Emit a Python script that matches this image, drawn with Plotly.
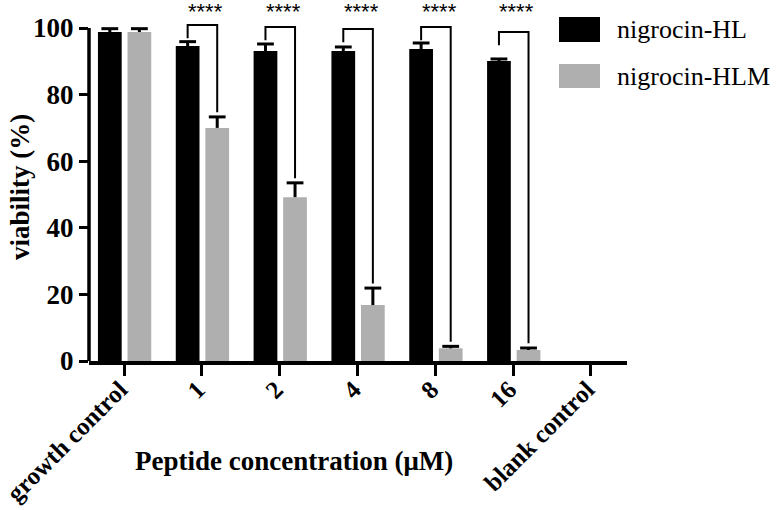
import plotly.graph_objects as go

# ---- data ----
categories = ["growth control", "1", "2", "4", "8", "16", "blank control"]
hl_values = [98.8, 94.6, 93.1, 93.1, 93.7, 90.1, None]
hl_errors = [1.0, 1.3, 2.1, 1.2, 1.8, 0.6, None]
hlm_values = [98.8, 70.0, 49.2, 16.8, 3.8, 3.3, None]
hlm_errors = [1.0, 3.3, 4.3, 5.1, 0.6, 0.6, None]
sig_index = [1, 2, 3, 4, 5]
sig_labels = ["****", "****", "****", "****", "****"]
sig_heights = [100.9, 100.3, 99.7, 100.3, 98.8]

W, H = 778, 510
ML, MR, MT, MB = 89, 151, 0, 149
PW, PH = W - ML - MR, H - MT - MB

def px_x(p):
    return (p - ML) / PW

def px_y(p):
    return (H - MB - p) / PH

x = list(range(len(categories)))
BW = 0.305
OFF_HL, OFF_HLM = -0.335, 0.045
GRAY = "#AFAFAF"
SERIF = "Liberation Serif, Times New Roman, serif"

fig = go.Figure()
fig.add_trace(go.Bar(
    x=x, y=hl_values, name="nigrocin-HL", width=BW, offset=OFF_HL,
    marker=dict(color="black", line=dict(width=0)), showlegend=False))
fig.add_trace(go.Bar(
    x=x, y=hlm_values, name="nigrocin-HLM", width=BW, offset=OFF_HLM,
    marker=dict(color=GRAY, line=dict(width=0)), showlegend=False))

# one-sided (upward) error bars
for vals, errs, off in [(hl_values, hl_errors, OFF_HL), (hlm_values, hlm_errors, OFF_HLM)]:
    lx, ly, cx, cy = [], [], [], []
    for i, (v, e) in enumerate(zip(vals, errs)):
        if v is None or e is None:
            continue
        xc = i + off + BW / 2
        lx += [xc, xc, None]
        ly += [v, v + e, None]
        cx.append(xc)
        cy.append(v + e)
    fig.add_trace(go.Scatter(x=lx, y=ly, mode="lines", line=dict(color="black", width=3),
                             showlegend=False, hoverinfo="skip"))
    fig.add_trace(go.Scatter(x=cx, y=cy, mode="markers",
                             marker=dict(symbol="line-ew", size=12, line=dict(color="black", width=3)),
                             showlegend=False, hoverinfo="skip"))

shapes = []
annotations = []
for i, lab, h in zip(sig_index, sig_labels, sig_heights):
    xl = i + OFF_HL + BW / 2
    xr = i + OFF_HLM + BW / 2
    yl = h - 4.0
    yr = hlm_values[i] + hlm_errors[i] + 1.4
    shapes.append(dict(type="path", xref="x", yref="y",
                       path=f"M {xl},{yl} L {xl},{h} L {xr},{h} L {xr},{yr}",
                       line=dict(color="black", width=2)))
    annotations.append(dict(x=(xl + xr) / 2 + 0.04, y=1, xref="x", yref="paper", text=lab,
                            showarrow=False, yanchor="top", yshift=3,
                            font=dict(family="Liberation Sans, Arial", size=22, color="black")))

# y axis line only up to 100
shapes.append(dict(type="line", xref="paper", yref="y", x0=0, x1=0, y0=0, y1=100,
                   line=dict(color="black", width=3.5)))

# legend (drawn)
shapes.append(dict(type="rect", xref="paper", yref="paper", x0=px_x(559), x1=px_x(600),
                   y0=px_y(42), y1=px_y(17), fillcolor="black", line=dict(width=0)))
shapes.append(dict(type="rect", xref="paper", yref="paper", x0=px_x(559), x1=px_x(600),
                   y0=px_y(88), y1=px_y(64), fillcolor=GRAY, line=dict(width=0)))
for txt, yc in [("nigrocin-HL", 30), ("nigrocin-HLM", 76)]:
    annotations.append(dict(x=px_x(615), y=px_y(yc), xref="paper", yref="paper", text=txt,
                            showarrow=False, xanchor="left", yanchor="middle",
                            font=dict(family=SERIF, size=26, color="black")))

annotations.append(dict(x=px_x(294), y=px_y(461), xref="paper", yref="paper",
                        text="<b>Peptide concentration (μM)</b>", showarrow=False,
                        xanchor="center", yanchor="middle",
                        font=dict(family=SERIF, size=27, color="black")))
annotations.append(dict(x=px_x(20), y=px_y(187), xref="paper", yref="paper",
                        text="<b>viability (%)</b>", showarrow=False, textangle=-90,
                        xanchor="center", yanchor="middle",
                        font=dict(family=SERIF, size=27, color="black")))

fig.update_layout(
    width=W, height=H,
    margin=dict(l=ML, r=MR, t=MT, b=MB),
    plot_bgcolor="white", paper_bgcolor="white",
    barmode="overlay",
    shapes=shapes, annotations=annotations,
    xaxis=dict(range=[-(124 - ML) / 77.8, 6 + (627 - 591) / 77.8],
               tickvals=x, ticktext=[f"<b>{c}</b>" for c in categories],
               tickangle=-45, showline=True, linecolor="black", linewidth=4,
               ticks="outside", ticklen=11, tickwidth=3, tickcolor="black",
               ticklabeloverflow="allow", ticklabelstandoff=-11, ticklabelshift=-4,
               showgrid=False, zeroline=False, automargin=False,
               tickfont=dict(family=SERIF, size=25, color="black")),
    yaxis=dict(range=[0, PH / 3.33], tickvals=[0, 20, 40, 60, 80, 100],
               ticktext=[f"<b>{v}</b>" for v in [0, 20, 40, 60, 80, 100]],
               showline=False, ticks="outside", ticklen=9, tickwidth=3, tickcolor="black",
               showgrid=False, zeroline=False, automargin=False,
               tickfont=dict(family=SERIF, size=27, color="black")),
)

fig.write_html("out.html", config={"displayModeBar": False},
               post_script="document.body.style.margin='0';document.body.style.overflow='hidden';")
